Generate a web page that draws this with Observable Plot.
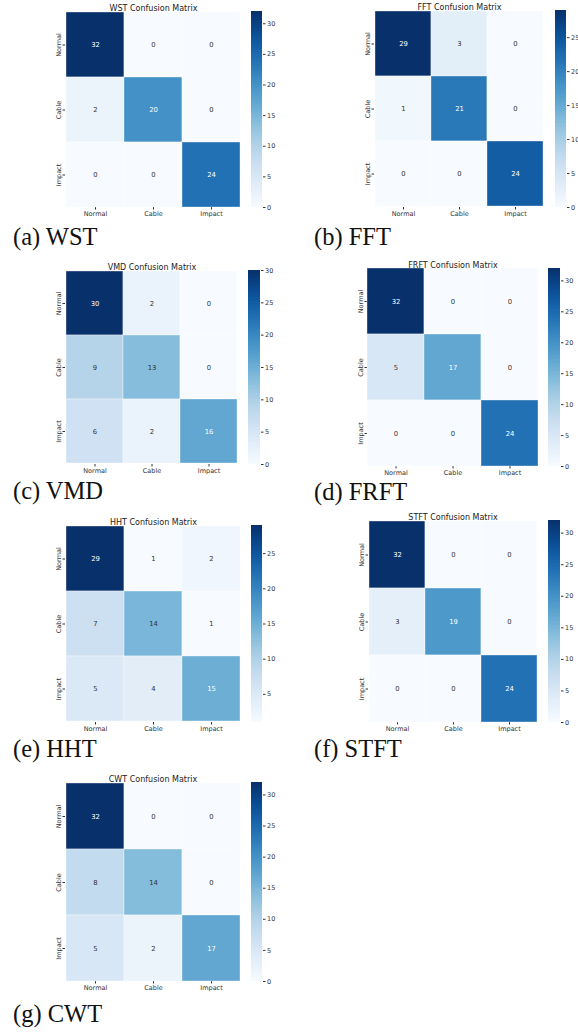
<!DOCTYPE html>
<html>
<head>
<meta charset="utf-8">
<script src="https://cdn.jsdelivr.net/npm/d3@7"></script>
<script src="https://cdn.jsdelivr.net/npm/@observablehq/plot@0.6"></script>
<style>
  html, body { margin: 0; padding: 0; background: #fff; }
  #root { position: relative; width: 578px; height: 1032px; overflow: hidden; background: #fff; }
  .abs { position: absolute; }
  .cap { position: absolute; font-family: "Liberation Serif", "Times New Roman", serif; font-size: 24.5px; color: #111; white-space: nowrap; line-height: 16px; height: 16px; }
</style>
</head>
<body>
<div id="root"></div>
<script>
// ---- data ----
const labels = ["Normal", "Cable", "Impact"];
const names = ["WST", "FFT", "VMD", "FRFT", "HHT", "STFT", "CWT"];
const captions = ["(a) WST", "(b) FFT", "(c) VMD", "(d) FRFT", "(e) HHT", "(f) STFT", "(g) CWT"];
const wst  = [[32, 0, 0], [2, 20, 0], [0, 0, 24]];
const fft  = [[29, 3, 0], [1, 21, 0], [0, 0, 24]];
const vmd  = [[30, 2, 0], [9, 13, 0], [6, 2, 16]];
const frft = [[32, 0, 0], [5, 17, 0], [0, 0, 24]];
const hht  = [[29, 1, 2], [7, 14, 1], [5, 4, 15]];
const stft = [[32, 0, 0], [3, 19, 0], [0, 0, 24]];
const cwt  = [[32, 0, 0], [8, 14, 0], [5, 2, 17]];
const colorbarTicks = [0, 5, 10, 15, 20, 25, 30];

// ---- layout (heatmap frame [x0,y0,x1,y1], colorbar [x0,x1], caption [x, baseline]) ----
const layout = [
  {m: wst,  hm: [65, 11, 241, 207],  cb: [251, 262], cap: [13, 245]},
  {m: fft,  hm: [374, 10, 544, 207], cb: [555, 566], cap: [314, 245]},
  {m: vmd,  hm: [65, 270, 238, 464], cb: [248, 260], cap: [13, 499]},
  {m: frft, hm: [367, 268, 538, 466], cb: [548, 560], cap: [314, 500]},
  {m: hht,  hm: [65, 525, 241, 722], cb: [251, 262], cap: [13, 757]},
  {m: stft, hm: [368, 520, 537, 722], cb: [548, 560], cap: [314, 757]},
  {m: cwt,  hm: [65, 782, 240, 981], cb: [251, 262], cap: [13, 1022]}
];

const root = document.getElementById("root");
const font = "DejaVu Sans";

function relLum(c) {
  const r = d3.rgb(c);
  const f = x => { x /= 255; return x <= 0.03928 ? x / 12.92 : Math.pow((x + 0.055) / 1.055, 2.4); };
  return 0.2126 * f(r.r) + 0.7152 * f(r.g) + 0.0722 * f(r.b);
}

function place(el, left, top) {
  el.classList.add("abs");
  el.style.left = left + "px";
  el.style.top = top + "px";
  root.appendChild(el);
}

layout.forEach((cfg, k) => {
  const m = cfg.m;
  const data = [];
  m.forEach((row, i) => row.forEach((v, j) => data.push({t: labels[i], p: labels[j], v})));
  const vals = m.flat();
  const lo = d3.min(vals), hi = d3.max(vals);
  const colorOf = v => d3.interpolateBlues((v - lo) / (hi - lo));
  const isDark = d => relLum(colorOf(d.v)) <= 0.408;

  const mL = 24, mT = 14, mB = 18, mR = 2;
  const w = cfg.hm[2] - cfg.hm[0], h = cfg.hm[3] - cfg.hm[1];
  const heat = Plot.plot({
    width: w + mL + mR, height: h + mT + mB,
    marginLeft: mL, marginTop: mT, marginBottom: mB, marginRight: mR,
    style: {fontFamily: font, fontSize: "6.5px", color: "#333", background: "transparent", overflow: "visible"},
    x: {domain: labels, label: null, padding: 0, tickSize: 2.5, tickPadding: 1.5},
    y: {domain: labels, label: null, padding: 0, tickSize: 2.5, tickPadding: 2, tickRotate: -90},
    color: {type: "linear", scheme: "blues", domain: [lo, hi]},
    marks: [
      Plot.cell(data, {x: "p", y: "t", fill: "v", stroke: "white", strokeWidth: 0.6, strokeOpacity: 0.6}),
      Plot.text(data.filter(isDark), {x: "p", y: "t", text: d => String(d.v), fill: "white", fontSize: 6.8}),
      Plot.text(data.filter(d => !isDark(d)), {x: "p", y: "t", text: d => String(d.v), fill: "#333333", fontSize: 6.8}),
      Plot.text([names[k] + " Confusion Matrix"], {frameAnchor: "top", dy: -6, text: d => d, fontSize: 8, fill: "#222"})
    ]
  });
  place(heat, cfg.hm[0] - mL, cfg.hm[1] - mT);

  // colorbar
  const n = 150, step = (hi - lo) / n;
  const steps = d3.range(n).map(i => lo + i * step);
  const cbW = cfg.cb[1] - cfg.cb[0];
  const cmT = 4, cmB = 4, cmR = 20;
  const bar = Plot.plot({
    width: cbW + cmR, height: h + cmT + cmB,
    marginLeft: 0, marginRight: cmR, marginTop: cmT, marginBottom: cmB,
    style: {fontFamily: font, fontSize: "6.5px", color: "#333", background: "transparent", overflow: "visible"},
    x: {domain: [0, 1], axis: null},
    y: {domain: [lo, hi], axis: "right", label: null, ticks: colorbarTicks.filter(t => t >= lo && t <= hi), tickSize: 2.5, tickPadding: 2},
    color: {type: "linear", scheme: "blues", domain: [lo, hi]},
    marks: [
      Plot.rect(steps, {x1: 0, x2: 1, y1: d => d, y2: d => Math.min(hi, d + step * 3), fill: d => d + step / 2, shapeRendering: "crispEdges"})
    ]
  });
  place(bar, cfg.cb[0], cfg.hm[1] - cmT);

  // caption
  const cap = document.createElement("div");
  cap.className = "cap";
  cap.textContent = captions[k];
  cap.style.left = cfg.cap[0] + "px";
  cap.style.top = (cfg.cap[1] - 16.3) + "px";
  root.appendChild(cap);
});
</script>
</body>
</html>
